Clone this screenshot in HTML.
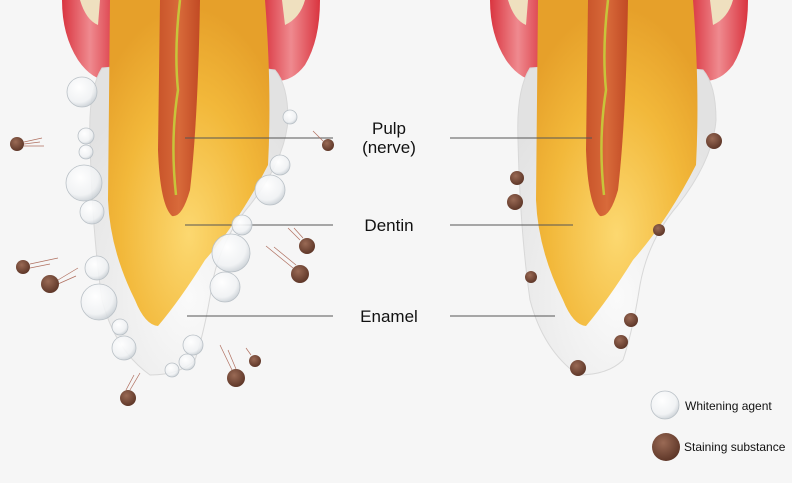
<!DOCTYPE html>
<html><head><meta charset="utf-8"><style>
html,body{margin:0;padding:0;background:#f6f6f6;}
svg{display:block}
text{font-family:"Liberation Sans",sans-serif;fill:#111}
</style></head><body>
<svg width="792" height="483" viewBox="0 0 792 483" xmlns="http://www.w3.org/2000/svg">
<defs>
<radialGradient id="den" cx="0.5" cy="0.72" r="0.7">
<stop offset="0" stop-color="#fcd870"/><stop offset="0.6" stop-color="#f2b83a"/><stop offset="1" stop-color="#e6a02a"/>
</radialGradient>
<radialGradient id="ena" cx="0.5" cy="0.75" r="0.7">
<stop offset="0" stop-color="#fafafa"/><stop offset="1" stop-color="#e2e2e2"/>
</radialGradient>
<linearGradient id="pulp" x1="0" x2="1"><stop offset="0" stop-color="#c9542a"/><stop offset="0.5" stop-color="#d86a3a"/><stop offset="1" stop-color="#c14a24"/></linearGradient>
<linearGradient id="gum" x1="0" x2="1"><stop offset="0" stop-color="#d9343f"/><stop offset="0.5" stop-color="#ef8a8f"/><stop offset="1" stop-color="#d9343f"/></linearGradient>
<radialGradient id="bub" cx="0.4" cy="0.35" r="0.7">
<stop offset="0" stop-color="#ffffff" stop-opacity="0.95"/><stop offset="0.7" stop-color="#f0f2f4" stop-opacity="0.85"/><stop offset="1" stop-color="#c3cad0" stop-opacity="0.9"/>
</radialGradient>
<radialGradient id="st" cx="0.4" cy="0.35" r="0.7">
<stop offset="0" stop-color="#9a6a55"/><stop offset="1" stop-color="#5a3325"/>
</radialGradient>
<g id="tooth">
<path d="M62,0 L115,0 L118,80 Q95,85 78,60 Q62,35 62,0Z" fill="url(#gum)"/>
<path d="M262,0 L320,0 Q320,40 305,65 Q290,85 268,80Z" fill="url(#gum)"/>
<path d="M80,0 L100,0 L98,25 Q86,20 80,0Z" fill="#efe0bf"/>
<path d="M282,0 L305,0 Q300,18 285,25Z" fill="#efe0bf"/>
<path d="M102,68 Q88,90 90,140 Q92,230 102,300 Q115,350 150,375 Q180,375 195,360 Q205,330 212,285 Q220,240 250,205 Q285,160 288,120 Q288,85 275,70 Q190,60 102,68Z" fill="url(#ena)" stroke="#d8d8d8"/>
<path d="M110,0 L265,0 Q272,90 268,165 Q240,220 205,260 Q180,300 158,326 Q145,325 135,300 Q110,250 108,200 Z" fill="url(#den)"/>
<path d="M160,0 L200,0 Q198,120 190,190 Q182,218 172,216 Q160,205 158,150 Z" fill="url(#pulp)"/>
<path d="M180,0 Q174,50 178,90 Q170,140 176,195" fill="none" stroke="#c8c43a" stroke-width="2.5"/>
</g>
</defs>
<use href="#tooth"/>
<use href="#tooth" transform="translate(428,0)"/>
<g stroke="#555" stroke-width="1">
<line x1="185" y1="138" x2="333" y2="138"/><line x1="185" y1="225" x2="333" y2="225"/><line x1="187" y1="316" x2="333" y2="316"/>
<line x1="450" y1="138" x2="592" y2="138"/><line x1="450" y1="225" x2="573" y2="225"/><line x1="450" y1="316" x2="555" y2="316"/>
</g>
<g font-size="17" text-anchor="middle">
<text x="389" y="134">Pulp</text><text x="389" y="153">(nerve)</text>
<text x="389" y="231">Dentin</text><text x="389" y="322">Enamel</text>
</g>
<g fill="url(#bub)" stroke="#b9c0c6" stroke-width="0.8">
<circle cx="82" cy="92" r="15"/><circle cx="86" cy="136" r="8"/><circle cx="86" cy="152" r="7"/><circle cx="84" cy="183" r="18"/><circle cx="92" cy="212" r="12"/><circle cx="290" cy="117" r="7"/><circle cx="280" cy="165" r="10"/><circle cx="270" cy="190" r="15"/><circle cx="242" cy="225" r="10"/><circle cx="231" cy="253" r="19"/><circle cx="225" cy="287" r="15"/><circle cx="97" cy="268" r="12"/><circle cx="99" cy="302" r="18"/><circle cx="120" cy="327" r="8"/><circle cx="124" cy="348" r="12"/><circle cx="193" cy="345" r="10"/><circle cx="187" cy="362" r="8"/><circle cx="172" cy="370" r="7"/>
<circle cx="665" cy="405" r="14"/>
</g>
<g stroke="#b07060" stroke-width="0.7">
<line x1="24" y1="142" x2="42" y2="138"/><line x1="24" y1="146" x2="44" y2="146"/><line x1="24" y1="144" x2="40" y2="142"/>
<line x1="30" y1="264" x2="58" y2="258"/><line x1="30" y1="268" x2="50" y2="264"/><line x1="58" y1="280" x2="78" y2="268"/><line x1="58" y1="284" x2="76" y2="276"/>
<line x1="300" y1="240" x2="288" y2="228"/><line x1="303" y1="238" x2="294" y2="228"/><line x1="293" y1="268" x2="266" y2="246"/><line x1="296" y1="265" x2="274" y2="247"/>
<line x1="323" y1="141" x2="313" y2="131"/><line x1="251" y1="355" x2="246" y2="348"/>
<line x1="232" y1="370" x2="220" y2="345"/><line x1="236" y1="369" x2="228" y2="350"/><line x1="130" y1="390" x2="140" y2="373"/><line x1="126" y1="390" x2="134" y2="375"/>
</g>
<g fill="url(#st)">
<circle cx="17" cy="144" r="7"/><circle cx="23" cy="267" r="7"/><circle cx="50" cy="284" r="9"/><circle cx="307" cy="246" r="8"/><circle cx="300" cy="274" r="9"/><circle cx="328" cy="145" r="6"/><circle cx="255" cy="361" r="6"/><circle cx="236" cy="378" r="9"/><circle cx="128" cy="398" r="8"/>
<circle cx="714" cy="141" r="8"/><circle cx="517" cy="178" r="7"/><circle cx="515" cy="202" r="8"/><circle cx="659" cy="230" r="6"/><circle cx="531" cy="277" r="6"/><circle cx="631" cy="320" r="7"/><circle cx="621" cy="342" r="7"/><circle cx="578" cy="368" r="8"/>
<circle cx="666" cy="447" r="14"/>
</g>
<g font-size="12"><text x="685" y="410">Whitening agent</text><text x="684" y="451">Staining substance</text></g>
</svg>
</body></html>
